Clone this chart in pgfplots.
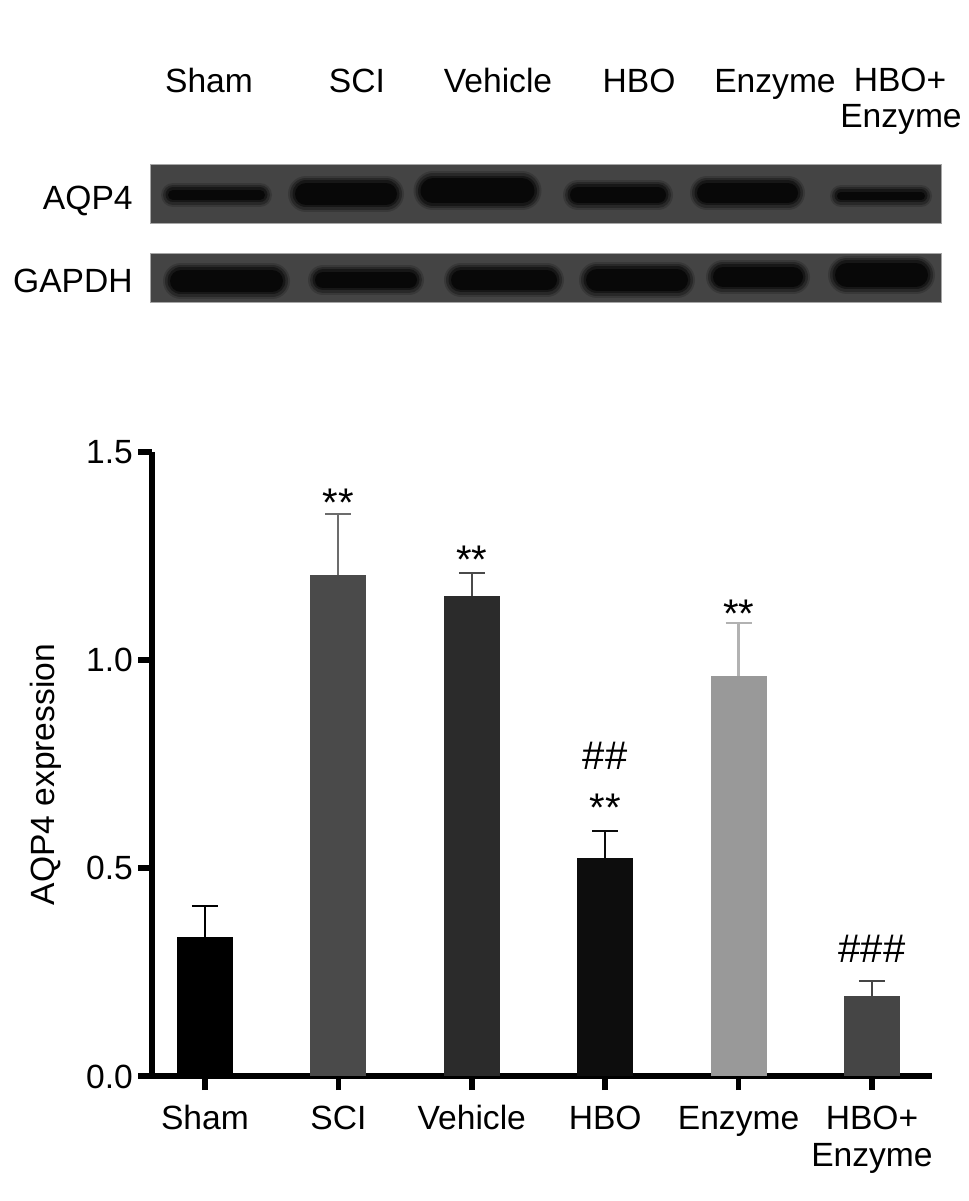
\documentclass[border=0pt]{standalone}
\usepackage{pgfplots}
\pgfplotsset{compat=1.18}
\usepackage{fontspec}
\setmainfont{Liberation Sans}
\definecolor{blotbg}{HTML}{444444}
\definecolor{bandA}{HTML}{383838}
\definecolor{bandB}{HTML}{282828}
\definecolor{bandC}{HTML}{171717}
\definecolor{bandD}{HTML}{080808}
\definecolor{cSham}{HTML}{000000}
\definecolor{cSCI}{HTML}{4A4A4A}
\definecolor{cVeh}{HTML}{2B2B2B}
\definecolor{cHBO}{HTML}{0D0D0D}
\definecolor{cEnz}{HTML}{999999}
\definecolor{cHE}{HTML}{454545}
\newcommand{\lbl}{\fontsize{16.8}{18.5}\selectfont}
\newcommand{\ann}{\fontsize{20}{24}\selectfont}
% band: x-left, x-right, y-center (px), half height in pt
\newcommand{\band}[4]{%
  \addplot[color=bandA, line width=#4pt+2pt, line cap=round] coordinates {(#1,#3) (#2,#3)};
  \addplot[color=bandB, line width=#4pt, line cap=round] coordinates {(#1,#3) (#2,#3)};
  \addplot[color=bandC, line width=#4pt-2.5pt, line cap=round] coordinates {(#1,#3) (#2,#3)};
  \addplot[color=bandD, line width=#4pt-5pt, line cap=round] coordinates {(#1,#3) (#2,#3)};
}
\begin{document}
\begin{tikzpicture}
\useasboundingbox (0,0) rectangle (484.5pt,600.5pt);
% ---- western blot panel (pixel coordinates) ----
\begin{axis}[
  at={(0pt,0pt)}, anchor=south west,
  scale only axis, width=484.5pt, height=600.5pt,
  xmin=0, xmax=969, ymin=0, ymax=1201, y dir=reverse,
  hide axis, clip=false]
\addplot[fill=blotbg, draw=gray!70, line width=0.4pt] coordinates {(150,164) (941,164) (941,223) (150,223)} -- cycle;
\addplot[fill=blotbg, draw=gray!70, line width=0.4pt] coordinates {(150,253) (941,253) (941,302) (150,302)} -- cycle;
% AQP4 bands
\band{173}{260}{195}{10}
\band{306}{386}{194}{16}
\band{433}{522}{191}{17.5}
\band{578}{658}{195}{13}
\band{707}{788}{193}{15}
\band{841}{921}{196}{9}
% GAPDH bands
\band{181}{272}{281}{16}
\band{323}{409}{280}{13}
\band{461}{547}{280}{15}
\band{597}{677}{280}{16}
\band{723}{793}{277}{15}
\band{847}{916}{275}{17}
% labels
\node[anchor=base, font=\lbl] at (axis cs:209,93) {Sham};
\node[anchor=base, font=\lbl] at (axis cs:357,93) {SCI};
\node[anchor=base, font=\lbl] at (axis cs:498,93) {Vehicle};
\node[anchor=base, font=\lbl] at (axis cs:639,93) {HBO};
\node[anchor=base, font=\lbl] at (axis cs:775,93) {Enzyme};
\node[anchor=base, font=\lbl] at (axis cs:900,92) {HBO+};
\node[anchor=base, font=\lbl] at (axis cs:901,128) {Enzyme};
\node[anchor=base east, font=\lbl, inner sep=0pt] at (axis cs:133,210) {AQP4};
\node[anchor=base east, font=\lbl, inner sep=0pt] at (axis cs:133,293) {GAPDH};
\end{axis}
% ---- bar chart ----
\begin{axis}[
  at={(76pt,62.5pt)}, anchor=south west,
  scale only axis, width=390pt, height=312pt,
  xmin=-0.397, xmax=5.45, ymin=0, ymax=1.5,
  axis x line=bottom, axis y line=left,
  axis line style={line width=2.8pt, -},
  tick align=outside, major tick length=7pt,
  major tick style={line width=2.8pt, black},
  xtick={0,1,2,3,4,5},
  xticklabels={Sham, SCI, Vehicle, HBO, Enzyme, {HBO+\\Enzyme}},
  typeset ticklabels with strut,
  xticklabel style={align=center, font=\lbl, yshift=-3.5pt},
  ytick={0,0.5,1,1.5},
  yticklabel style={font=\lbl, xshift=1pt, yshift=-2.3pt, /pgf/number format/.cd, fixed, fixed zerofill, precision=1, assume math mode=true},
  ylabel={AQP4 expression},
  ylabel style={font=\lbl, at={(axis description cs:-0.136,0.483)}, anchor=center},
  clip=false,
  every axis plot/.append style={ybar, bar width=28pt, bar shift=0pt, draw=none,
    error bars/y dir=plus, error bars/y explicit},
]
\addplot[fill=cSham, error bars/error bar style={line width=1.1pt, cSham}, error bars/error mark options={rotate=90, mark size=6.5pt, line width=1.1pt, cSham}]
  coordinates {(0,0.334) +- (0,0.075)};
\addplot[fill=cSCI, error bars/error bar style={line width=1.1pt, gray!85!black}, error bars/error mark options={rotate=90, mark size=6.5pt, line width=1.1pt, gray!85!black}]
  coordinates {(1,1.204) +- (0,0.147)};
\addplot[fill=cVeh, error bars/error bar style={line width=1.1pt, cSCI}, error bars/error mark options={rotate=90, mark size=6.5pt, line width=1.1pt, cSCI}]
  coordinates {(2,1.154) +- (0,0.055)};
\addplot[fill=cHBO, error bars/error bar style={line width=1.1pt, cHBO}, error bars/error mark options={rotate=90, mark size=6.5pt, line width=1.1pt, cHBO}]
  coordinates {(3,0.524) +- (0,0.065)};
\addplot[fill=cEnz, error bars/error bar style={line width=1.1pt, gray!60}, error bars/error mark options={rotate=90, mark size=6.5pt, line width=1.1pt, gray!60}]
  coordinates {(4,0.962) +- (0,0.127)};
\addplot[fill=cHE, error bars/error bar style={line width=1.1pt, cHE}, error bars/error mark options={rotate=90, mark size=6.5pt, line width=1.1pt, cHE}]
  coordinates {(5,0.192) +- (0,0.036)};
\node[anchor=base, font=\ann] at (axis cs:1,1.344) {**};
\node[anchor=base, font=\ann] at (axis cs:2,1.207) {**};
\node[anchor=base, font=\ann] at (axis cs:4,1.079) {**};
\node[anchor=base, font=\ann] at (axis cs:3,0.611) {**};
\node[anchor=base, font=\ann] at (axis cs:3,0.736) {\#\#};
\node[anchor=base, font=\ann] at (axis cs:5,0.272) {\#\#\#};
\end{axis}
\end{tikzpicture}
\end{document}
